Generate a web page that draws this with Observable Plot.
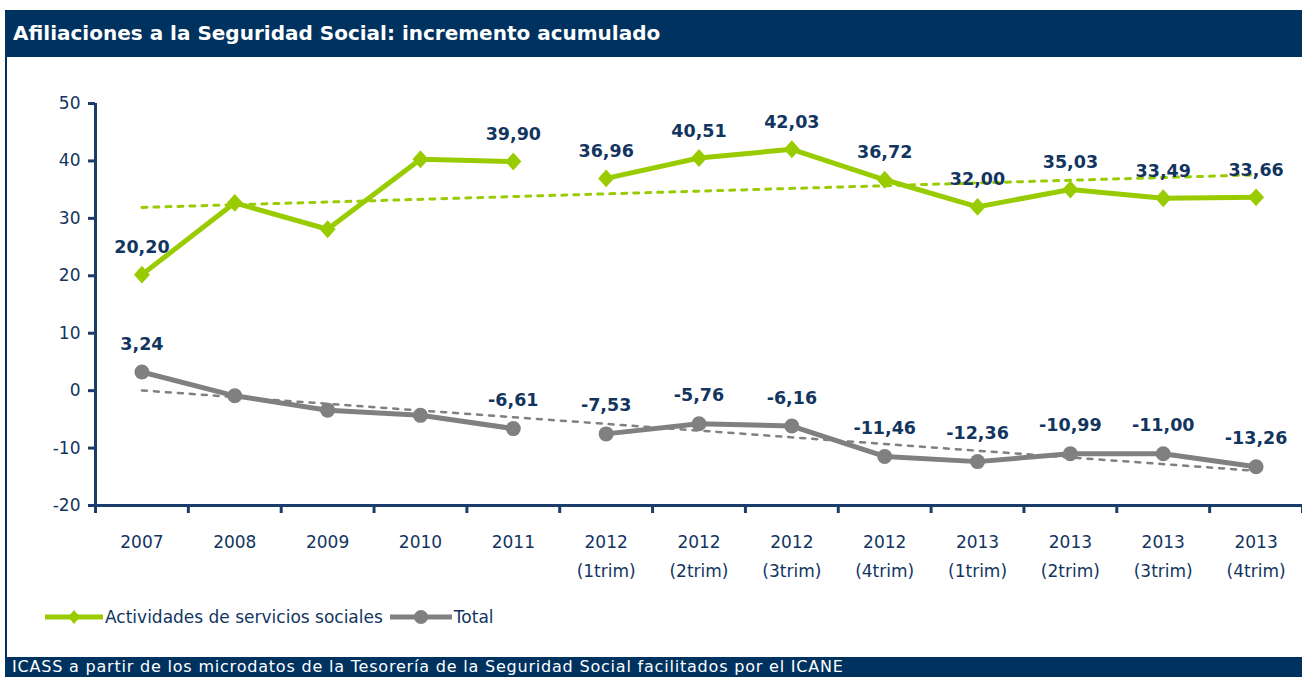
<!DOCTYPE html>
<html>
<head>
<meta charset="utf-8">
<script src="https://cdn.jsdelivr.net/npm/d3@7"></script>
<script src="https://cdn.jsdelivr.net/npm/@observablehq/plot@0.6"></script>
<style>
  body { margin: 0; width: 1302px; height: 677px; overflow: hidden; background: #fff; position: relative; font-family: "DejaVu Sans", sans-serif; }
  #title { position: absolute; left: 5px; top: 10px; width: 1297px; height: 47px; background: #00325f; color: #fff; font-weight: bold; font-size: 20px; line-height: 47px; padding-left: 8px; box-sizing: border-box; white-space: nowrap; }
  #frame { position: absolute; left: 5px; top: 57px; width: 2px; height: 600px; background: #00325f; }
  #chart { position: absolute; left: 7px; top: 57px; }
  #legend { position: absolute; left: 45px; top: 605px; height: 24px; display: flex; align-items: center; font-size: 17px; color: #12355f; white-space: nowrap; }
  #legend svg { display: block; }
  #legend span { margin-right: 5px; }
  #caption { position: absolute; left: 5px; top: 657px; width: 1297px; height: 20px; background: #00325f; color: #fff; font-size: 16px; letter-spacing: 0.8px; line-height: 20px; padding-left: 7px; box-sizing: border-box; white-space: nowrap; }
</style>
</head>
<body>
<div id="title">Afiliaciones a la Seguridad Social: incremento acumulado</div>
<div id="frame"></div>
<div id="chart"></div>
<div id="legend">
  <svg width="60" height="20"><line x1="0" x2="58" y1="10" y2="10" stroke="#99cc00" stroke-width="5"></line><path d="M29,3 L35,10 L29,17 L23,10 Z" fill="#99cc00"></path></svg>
  <span>Actividades de servicios sociales</span>
  <svg width="66" height="20"><line x1="2" x2="64" y1="10" y2="10" stroke="#808080" stroke-width="5"></line><circle cx="33" cy="10" r="7" fill="#808080"></circle></svg>
  <span>Total</span>
</div>
<div id="caption">ICASS a partir de los microdatos de la Tesorería de la Seguridad Social facilitados por el ICANE</div>
<script>
const categories = ["2007", "2008", "2009", "2010", "2011",
  "2012\n(1trim)", "2012\n(2trim)", "2012\n(3trim)", "2012\n(4trim)",
  "2013\n(1trim)", "2013\n(2trim)", "2013\n(3trim)", "2013\n(4trim)"];
const periodo = ["anual", "anual", "anual", "anual", "anual",
  "trim", "trim", "trim", "trim", "trim", "trim", "trim", "trim"];
const servicios = [20.20, 32.7, 28.1, 40.3, 39.90, 36.96, 40.51, 42.03, 36.72, 32.00, 35.03, 33.49, 33.66];
const total = [3.24, -0.9, -3.4, -4.3, -6.61, -7.53, -5.76, -6.16, -11.46, -12.36, -10.99, -11.00, -13.26];
const etiquetada = [true, false, false, false, true, true, true, true, true, true, true, true, true];
const yTicks = [-20, -10, 0, 10, 20, 30, 40, 50];

const green = "#99cc00", gray = "#808080", navy = "#12355f", axisNavy = "#1b3d6b";

const rows = categories.map((c, i) => ({i, c, p: periodo[i], s: servicios[i], t: total[i], lab: etiquetada[i]}));
const labeled = rows.filter(d => d.lab);
const fmt = v => v.toFixed(2).replace(".", ",");

const diamond = {
  draw(ctx, size) {
    const r = Math.sqrt(size / Math.PI);
    const h = r * 1.12;
    ctx.moveTo(0, -h); ctx.lineTo(r, 0); ctx.lineTo(0, h); ctx.lineTo(-r, 0); ctx.closePath();
  }
};

const bounds = d3.range(13).map(i => i - 0.5).concat([12.5]);

const chart = Plot.plot({
  width: 1295,
  height: 543,
  marginLeft: 88,
  marginRight: 0,
  marginTop: 46,
  marginBottom: 95,
  style: {fontFamily: "'DejaVu Sans', sans-serif", background: "transparent", overflow: "visible"},
  x: {type: "linear", domain: [-0.5, 12.5], label: null},
  y: {domain: [-20, 50], label: null},
  marks: [
    Plot.linearRegressionY(rows, {x: "i", y: "s", ci: 0, stroke: green, strokeWidth: 3, strokeDasharray: "5,7"}),
    Plot.linearRegressionY(rows, {x: "i", y: "t", ci: 0, stroke: gray, strokeWidth: 2.5, strokeDasharray: "5,7"}),
    Plot.lineY(rows, {x: "i", y: "s", z: "p", stroke: green, strokeWidth: 5}),
    Plot.dot(rows, {x: "i", y: "s", symbol: diamond, r: 8, fill: green}),
    Plot.lineY(rows, {x: "i", y: "t", z: "p", stroke: gray, strokeWidth: 5}),
    Plot.dot(rows, {x: "i", y: "t", r: 7.5, fill: gray}),
    Plot.text(labeled, {x: "i", y: "s", text: d => fmt(d.s), dy: -27, fontSize: 17.5, fontWeight: "bold", fill: navy}),
    Plot.text(labeled, {x: "i", y: "t", text: d => fmt(d.t), dy: -28, fontSize: 17.5, fontWeight: "bold", fill: navy}),
    Plot.axisY(yTicks, {label: null, tickSize: 7, tickPadding: 8, tickFormat: d => String(d), fontSize: 17, stroke: axisNavy, strokeWidth: 3, fill: navy}),
    Plot.ruleX([-0.5], {stroke: axisNavy, strokeWidth: 3}),
    Plot.ruleY([-20], {stroke: axisNavy, strokeWidth: 3}),
    Plot.axisX(bounds, {label: null, tickSize: 8, tickFormat: () => "", stroke: axisNavy, strokeWidth: 3}),
    Plot.axisX(d3.range(13), {label: null, tickSize: 0, tickPadding: 22, tickFormat: i => categories[i], fontSize: 17, lineHeight: 1.7, fill: navy})
  ]
});
document.getElementById("chart").append(chart);
</script>
</body>
</html>
